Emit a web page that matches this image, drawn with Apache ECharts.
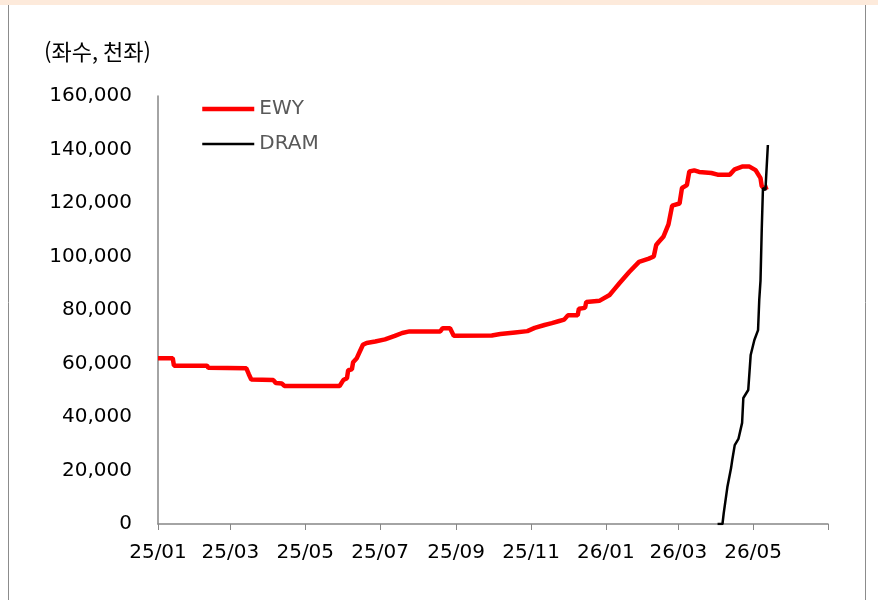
<!doctype html>
<html lang="ko">
<head>
	<meta charset="UTF-8">
	<title>EWY vs DRAM</title>
	<script src="https://cdn.jsdelivr.net/npm/echarts@6/dist/echarts.min.js"></script>
	<style>
		html, body { margin: 0; padding: 0; background: #fff; }
		#chart { width: 878px; height: 600px; }
	</style>
</head>
<body>
	<div id="chart"></div>
	<script>
		// 데이터 (좌수, 천좌)
		var ewyDates = [
			'2025-01-01', '2025-01-13', '2025-01-14', '2025-02-10', '2025-02-11', '2025-03-14', '2025-03-16', '2025-03-18',
			'2025-04-05', '2025-04-07', '2025-04-12', '2025-04-14', '2025-05-29', '2025-06-01', '2025-06-04', '2025-06-05',
			'2025-06-08', '2025-06-09', '2025-06-12', '2025-06-14', '2025-06-17', '2025-06-20', '2025-06-27', '2025-07-05',
			'2025-07-13', '2025-07-19', '2025-07-25', '2025-08-19', '2025-08-21', '2025-08-27', '2025-08-30', '2025-09-30',
			'2025-10-07', '2025-10-19', '2025-10-29', '2025-11-04', '2025-11-12', '2025-11-18', '2025-11-24', '2025-11-28',
			'2025-12-01', '2025-12-09', '2025-12-10', '2025-12-15', '2025-12-16', '2025-12-27', '2026-01-04', '2026-01-08',
			'2026-01-12', '2026-01-20', '2026-01-28', '2026-02-05', '2026-02-09', '2026-02-11', '2026-02-13', '2026-02-17',
			'2026-02-21', '2026-02-24', '2026-03-02', '2026-03-04', '2026-03-08', '2026-03-10', '2026-03-14', '2026-03-18',
			'2026-03-28', '2026-04-02', '2026-04-12', '2026-04-16', '2026-04-22', '2026-04-28', '2026-05-03', '2026-05-07',
			'2026-05-08', '2026-05-10', '2026-05-13'
		];
		var ewyValues = [
			62000, 62000, 59200, 59200, 58400, 58200, 56000, 54000,
			53800, 52700, 52500, 51600, 51600, 53800, 54500, 57500,
			57800, 60500, 62000, 64000, 67000, 67700, 68200, 69000,
			70300, 71400, 72000, 72000, 73200, 73200, 70400, 70500,
			71000, 71600, 72100, 73300, 74400, 75100, 75900, 76400,
			78000, 78000, 80500, 80800, 83000, 83500, 85600, 87800,
			90000, 94200, 98000, 99200, 100000, 104300, 105400, 107500,
			112000, 119000, 119800, 125600, 126700, 131800, 132200, 131600,
			131200, 130600, 130600, 132600, 133600, 133600, 132300, 129300,
			126300, 125500, 126000
		];
		var dramDates = [
			'2026-04-02', '2026-04-06', '2026-04-07', '2026-04-10', '2026-04-13', '2026-04-14', '2026-04-16', '2026-04-19',
			'2026-04-22', '2026-04-23', '2026-04-27', '2026-04-29', '2026-05-02', '2026-05-05', '2026-05-06', '2026-05-07',
			'2026-05-08', '2026-05-09', '2026-05-11', '2026-05-13'
		];
		var dramValues = [
			0, 0, 4000, 13800, 20900, 24000, 29500, 31800,
			37800, 47100, 50100, 63200, 68800, 72500, 84000, 91000,
			110000, 125600, 124800, 141700
		];
		// x축 눈금 (2개월 간격)
		var tickMonths = ['2025-01', '2025-03', '2025-05', '2025-07', '2025-09', '2025-11', '2026-01', '2026-03', '2026-05'];
		var axisEndMonth = '2026-07';

		function toTime(s) {
			var p = s.split('-');
			return new Date(+p[0], +p[1] - 1, p[2] ? +p[2] : 1).getTime();
		}
		function pairs(dates, values) {
			return dates.map(function (d, i) { return [toTime(d), values[i]]; });
		}

		var labelTimes = tickMonths.map(toTime);
		var tickTimes = labelTimes.concat([toTime(axisEndMonth)]);

		var chart = echarts.init(document.getElementById('chart'));
		var font = '"DejaVu Sans", "Noto Sans CJK KR", sans-serif';

		var option = {
			animation: false,
			textStyle: { fontFamily: font },
			graphic: [
				{ type: 'rect', shape: { x: 0, y: 0, width: 878, height: 5 }, style: { fill: '#fdeadb' } },
				{ type: 'line', shape: { x1: 8.5, y1: 5, x2: 8.5, y2: 600 }, style: { stroke: '#8c8c8c', lineWidth: 1 } },
				{ type: 'line', shape: { x1: 865.5, y1: 5, x2: 865.5, y2: 600 }, style: { stroke: '#8c8c8c', lineWidth: 1 } },
				{
					type: 'text', left: 44, top: 41,
					style: { text: '(좌수, 천좌)', fill: '#000', font: '22px "Noto Sans CJK KR", sans-serif' }
				}
			],
			legend: {
				orient: 'vertical',
				left: 200,
				top: 99,
				padding: 0,
				itemWidth: 52,
				itemHeight: 10,
				itemGap: 15,
				itemStyle: { opacity: 0 },
				textStyle: { color: '#595959', fontSize: 20, fontFamily: font },
				data: [
					{ name: 'EWY', lineStyle: { width: 4.5 } },
					{ name: 'DRAM', lineStyle: { width: 2.5 } }
				]
			},
			grid: { left: 158, right: 50, top: 96, bottom: 76, containLabel: false },
			xAxis: {
				type: 'value',
				min: toTime(tickMonths[0]),
				max: toTime(axisEndMonth),
				splitLine: { show: false },
				axisLine: { lineStyle: { color: '#868686', width: 1.5 } },
				axisTick: { show: true, length: 6, lineStyle: { color: '#868686' }, customValues: tickTimes },
				axisLabel: {
					customValues: labelTimes,
					hideOverlap: false,
					margin: 19,
					color: '#000',
					fontSize: 20,
					formatter: function (v) {
						var d = new Date(v);
						var m = d.getMonth() + 1;
						return String(d.getFullYear()).slice(2) + '/' + (m < 10 ? '0' + m : m);
					}
				}
			},
			yAxis: {
				type: 'value',
				min: 0,
				max: 160000,
				interval: 20000,
				splitLine: { show: false },
				axisLine: { show: true, lineStyle: { color: '#868686', width: 1.5 } },
				axisTick: { show: false },
				axisLabel: {
					margin: 26,
					color: '#000',
					fontSize: 20,
					formatter: function (v) { return v.toLocaleString('en-US'); }
				}
			},
			series: [
				{
					name: 'EWY',
					type: 'line',
					symbol: 'none',
					color: '#ff0000',
					lineStyle: { color: '#ff0000', width: 4.5 },
					data: pairs(ewyDates, ewyValues)
				},
				{
					name: 'DRAM',
					type: 'line',
					symbol: 'none',
					color: '#000000',
					lineStyle: { color: '#000000', width: 2.5 },
					data: pairs(dramDates, dramValues)
				}
			]
		};
		chart.setOption(option);
	</script>
</body>
</html>
